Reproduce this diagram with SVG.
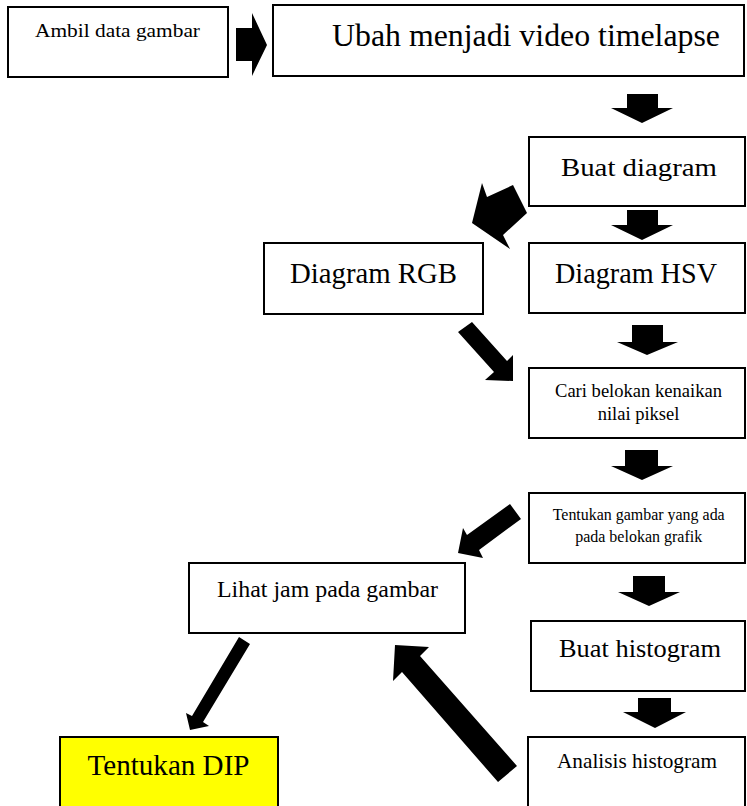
<svg xmlns="http://www.w3.org/2000/svg" width="747" height="806" viewBox="0 0 747 806">
<style>
.box{fill:#fff;stroke:#000;stroke-width:2}
.hl{fill:#ffff00;stroke:#000;stroke-width:2}
text{font-family:"Liberation Serif","Times New Roman",serif;fill:#000;text-anchor:middle}
.arr{fill:#000;stroke:none}
</style>
<rect width="747" height="806" fill="#fff"/>
<g id="n-ambil">
<rect class="box" x="8" y="7" width="220" height="70"/>
<text x="117.5" y="37" font-size="19" textLength="165" lengthAdjust="spacingAndGlyphs">Ambil data gambar</text>
</g>
<g id="n-ubah">
<rect class="box" x="273" y="5" width="471" height="71"/>
<text x="526" y="46" font-size="31" textLength="388" lengthAdjust="spacingAndGlyphs">Ubah menjadi video timelapse</text>
</g>
<g id="n-buatdiagram">
<rect class="box" x="529" y="137" width="216" height="69"/>
<text x="639" y="176" font-size="25" textLength="156" lengthAdjust="spacingAndGlyphs">Buat diagram</text>
</g>
<g id="n-rgb">
<rect class="box" x="264" y="243" width="219" height="71"/>
<text x="373.5" y="283" font-size="28.5" textLength="167" lengthAdjust="spacingAndGlyphs">Diagram RGB</text>
</g>
<g id="n-hsv">
<rect class="box" x="529" y="243" width="216" height="70"/>
<text x="636" y="283" font-size="28.5" textLength="162" lengthAdjust="spacingAndGlyphs">Diagram HSV</text>
</g>
<g id="n-cari">
<rect class="box" x="529" y="368" width="216" height="70"/>
<text x="638.5" y="397" font-size="18.5" textLength="167" lengthAdjust="spacingAndGlyphs">Cari belokan kenaikan</text>
<text x="638.5" y="420" font-size="18.5">nilai piksel</text>
</g>
<g id="n-tentukangambar">
<rect class="box" x="529" y="493" width="216" height="70"/>
<text x="638.7" y="520" font-size="16" textLength="172" lengthAdjust="spacingAndGlyphs">Tentukan gambar yang ada</text>
<text x="638.7" y="542" font-size="16">pada belokan grafik</text>
</g>
<g id="n-lihat">
<rect class="box" x="189" y="563" width="276" height="70"/>
<text x="327.5" y="597" font-size="24" textLength="221" lengthAdjust="spacingAndGlyphs">Lihat jam pada gambar</text>
</g>
<g id="n-buathistogram">
<rect class="box" x="531" y="621" width="214" height="70"/>
<text x="640" y="657" font-size="26" textLength="162" lengthAdjust="spacingAndGlyphs">Buat histogram</text>
</g>
<g id="n-dip">
<rect class="hl" x="60" y="737" width="218" height="80"/>
<text x="168.5" y="775" font-size="29" textLength="162" lengthAdjust="spacingAndGlyphs">Tentukan DIP</text>
</g>
<g id="n-analisis">
<rect class="box" x="528" y="737" width="217" height="80"/>
<text x="637" y="768" font-size="21" textLength="160" lengthAdjust="spacingAndGlyphs">Analisis histogram</text>
</g>
<g id="connectors">
<polygon class="arr" points="236,28 252,28 252,13 267,45 252,76 252,61 236,61"/>
<polygon class="arr" points="627,94 658,94 658,108 673,108 642,123 611,108 627,108"/>
<polygon class="arr" points="472,223 482,183 487,197 513,185 527,213 503,235 510,249"/>
<polygon class="arr" points="627,210 658,210 658,225 673,225 642,240 611,225 627,225"/>
<polygon class="arr" points="458,332 494,372 485,380 513,381 513,355 507,361 472,322"/>
<polygon class="arr" points="632,325 663,325 663,342 678,342 647,355 617,342 632,342"/>
<polygon class="arr" points="625,450 658,450 658,466 673,466 642,480 611,466 625,466"/>
<polygon class="arr" points="458,553 463,528 467,535 510,504 521,519 479,550 483,558"/>
<polygon class="arr" points="633,576 665,576 665,592 680,592 649,606 618,592 633,592"/>
<polygon class="arr" points="638,698 671,698 671,712 686,712 655,728 623,712 638,712"/>
<polygon class="arr" points="239,637 192,716 186,713 190,730 209,726 203,722 250,644"/>
<polygon class="arr" points="498,782 402,672 393,681 395,645 429,647 420,656 517,766"/>
</g>
</svg>
